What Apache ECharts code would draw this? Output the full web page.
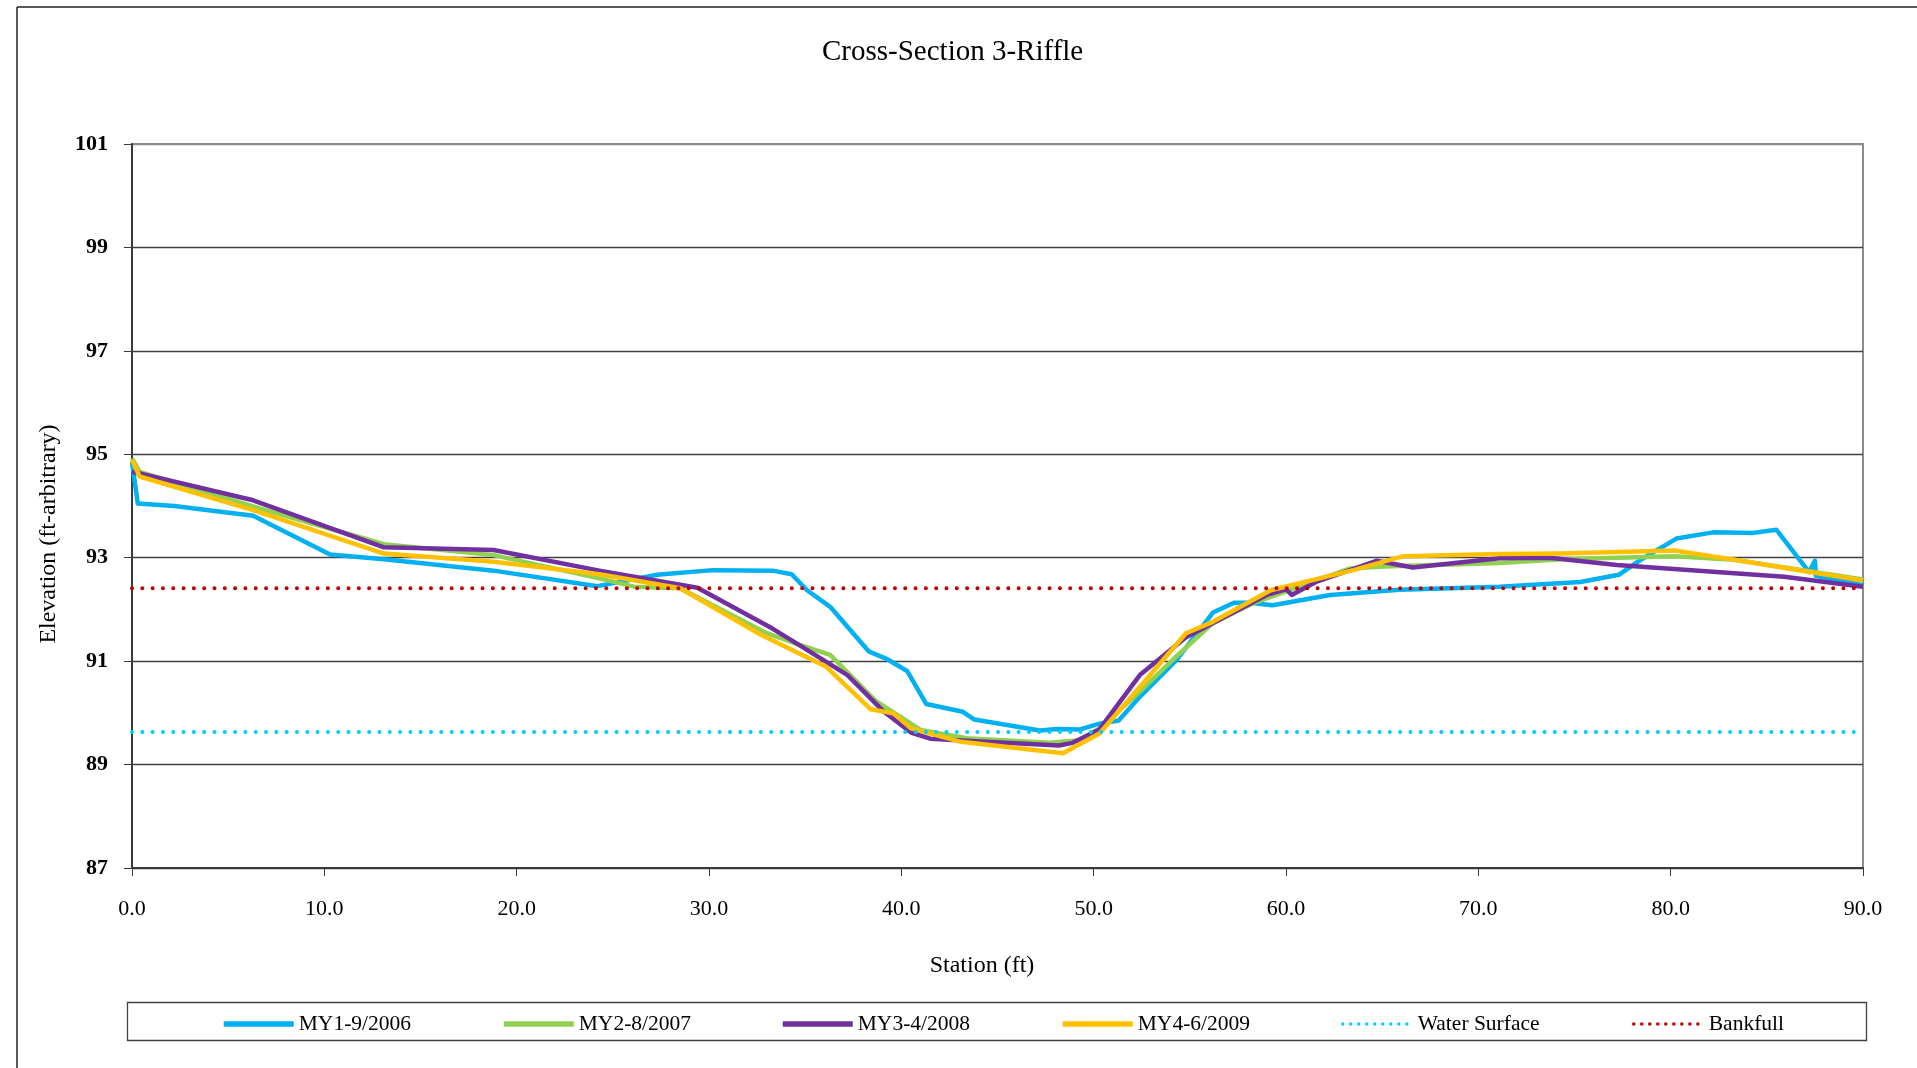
<!DOCTYPE html>
<html>
<head>
<meta charset="utf-8">
<script src="https://cdn.jsdelivr.net/npm/echarts@6/dist/echarts.min.js"></script>
<style>
html,body{margin:0;padding:0;background:#fff;}
#chart{width:1917px;height:1068px;}
</style>
</head>
<body>
<div id="chart"></div>
<script>
const chartTitle = 'Cross-Section 3-Riffle';
const xAxisName = 'Station (ft)';
const yAxisName = 'Elevation (ft-arbitrary)';
const seriesNames = ['MY1-9/2006', 'MY2-8/2007', 'MY3-4/2008', 'MY4-6/2009', 'Water Surface', 'Bankfull'];

const my1Station = [0, 0.3, 2.2, 6.3, 10.3, 13.1, 18.8, 24.2, 27.3, 30.2, 33.3, 34.3, 35.1, 36.3, 38.3, 39.2, 40.3, 41.3, 43.2, 43.8, 47.2, 48.1, 49.3, 50.3, 51.3, 52.4, 54.3, 56.2, 57.3, 58.1, 59.3, 62.3, 65.9, 71.1, 75.3, 77.3, 78.4, 80.3, 82.2, 84.3, 85.5, 87.2, 87.5, 87.55, 90];
const my1Elev = [94.85, 94.05, 94.0, 93.81, 93.06, 92.97, 92.75, 92.45, 92.67, 92.76, 92.75, 92.68, 92.37, 92.05, 91.19, 91.05, 90.81, 90.17, 90.02, 89.87, 89.66, 89.69, 89.68, 89.79, 89.85, 90.31, 91.02, 91.94, 92.13, 92.13, 92.08, 92.28, 92.38, 92.44, 92.53, 92.67, 92.95, 93.37, 93.49, 93.48, 93.54, 92.72, 92.94, 92.65, 92.47];

const my2Station = [0, 0.4, 6.3, 13.1, 18.8, 24.3, 26.1, 28.5, 33.0, 34.6, 36.3, 38.7, 41.0, 43.4, 47.7, 49.3, 50.3, 52.4, 54.3, 56.2, 58.3, 63.3, 65.1, 71.1, 74.3, 80.2, 83.3, 90];
const my2Elev = [94.92, 94.66, 93.99, 93.26, 93.05, 92.6, 92.44, 92.41, 91.54, 91.33, 91.12, 90.22, 89.67, 89.51, 89.42, 89.47, 89.7, 90.41, 91.09, 91.74, 92.12, 92.79, 92.83, 92.9, 92.97, 93.03, 92.96, 92.58];

const my3Station = [0, 0.4, 6.3, 13.1, 18.8, 24.3, 29.4, 33.3, 34.7, 37.2, 39.1, 40.5, 41.5, 43.4, 48.2, 48.9, 50.3, 52.4, 54.8, 59.0, 60.0, 60.3, 61.6, 64.7, 66.6, 71.1, 73.7, 77.2, 85.9, 90];
const my3Elev = [94.66, 94.63, 94.11, 93.2, 93.15, 92.75, 92.42, 91.63, 91.31, 90.73, 90.02, 89.62, 89.5, 89.46, 89.37, 89.42, 89.68, 90.73, 91.46, 92.28, 92.39, 92.28, 92.54, 92.94, 92.81, 92.99, 93.0, 92.86, 92.63, 92.44];

const my4Station = [0, 0.4, 6.3, 13.1, 18.8, 24.3, 28.5, 32.7, 36.1, 38.4, 39.6, 40.5, 43.1, 48.4, 50.3, 52.4, 54.8, 56.2, 59.2, 63.5, 66.1, 71.1, 74.3, 80.2, 83.3, 90];
const my4Elev = [94.89, 94.57, 93.92, 93.08, 92.92, 92.68, 92.41, 91.51, 90.89, 90.07, 89.99, 89.7, 89.44, 89.22, 89.6, 90.5, 91.54, 91.76, 92.37, 92.76, 93.03, 93.07, 93.08, 93.14, 92.96, 92.56];

const waterStation = [0, 90];
const waterElev = [89.63, 89.63];
const bankfullStation = [0, 90];
const bankfullElev = [92.41, 92.41];

const colors = ['#00B0F0', '#92D050', '#7030A0', '#FFC000', '#00CCFF', '#C00000'];
const FONT = 'Liberation Serif';

function pairs(xs, ys) { return xs.map((x, i) => [x, ys[i]]); }

const stationSets = [my1Station, my2Station, my3Station, my4Station, waterStation, bankfullStation];
const elevSets = [my1Elev, my2Elev, my3Elev, my4Elev, waterElev, bankfullElev];

const series = seriesNames.map((name, i) => {
  const dotted = i >= 4;
  return {
    name: name,
    type: 'line',
    data: pairs(stationSets[i], elevSets[i]),
    symbol: 'none',
    showSymbol: false,
    animation: false,
    z: 2 + i,
    lineStyle: dotted
      ? { color: colors[i], width: 4, type: [0.01, 10.3], cap: 'round' }
      : { color: colors[i], width: 4.5, join: 'round' },
    itemStyle: { color: colors[i] }
  };
});

// one legend per entry, laid out like the reference's evenly spaced legend row
const legendLefts = [221, 501, 780, 1060, 1341, 1632];
const legends = seriesNames.map((n, i) => ({
  left: legendLefts[i], top: 1013,
  padding: 0,
  itemWidth: 70, itemHeight: 12,
  itemStyle: { opacity: 0 },
  textStyle: { fontFamily: FONT, fontSize: 21.5, color: '#000' },
  data: [{
    name: n,
    itemStyle: { opacity: 0 },
    lineStyle: i >= 4 ? { width: 3.5, type: [0.01, 8], cap: 'round' } : { width: 5.5 }
  }]
}));

const chart = echarts.init(document.getElementById('chart'), null, { renderer: 'canvas' });
chart.setOption({
  backgroundColor: '#ffffff',
  animation: false,
  color: colors,
  title: {
    text: chartTitle,
    left: 817,
    top: 33,
    textStyle: { fontFamily: FONT, fontSize: 29, fontWeight: 'normal', color: '#000' }
  },
  grid: {
    left: 132, right: 54, top: 144, bottom: 200,
    show: true, borderColor: '#8c8c8c', borderWidth: 2, backgroundColor: 'transparent'
  },
  legend: legends,
  xAxis: {
    type: 'value', min: 0, max: 90, interval: 10,
    axisLine: { show: true, lineStyle: { color: '#3a3a3a', width: 2 } },
    axisTick: { show: true, inside: false, length: 8, lineStyle: { color: '#3a3a3a', width: 1 } },
    axisLabel: { margin: 30, fontFamily: FONT, fontSize: 22, color: '#000', formatter: v => v.toFixed(1) },
    splitLine: { show: false }
  },
  yAxis: {
    type: 'value', min: 87, max: 101, interval: 2,
    axisLine: { show: true, lineStyle: { color: '#3a3a3a', width: 2 } },
    axisTick: { show: true, inside: false, length: 8, lineStyle: { color: '#3a3a3a', width: 1 } },
    axisLabel: { margin: 24, fontFamily: FONT, fontSize: 22, fontWeight: 'bold', color: '#000' },
    splitLine: { show: true, lineStyle: { color: ['#404040', '#404040', '#404040', '#404040', '#404040', '#404040', '#404040', '#8c8c8c'], width: 1.3 } }
  },
  graphic: [
    { type: 'line', shape: { x1: 17, y1: 7, x2: 17, y2: 1068 }, style: { stroke: '#222', lineWidth: 1.5 }, silent: true },
    { type: 'line', shape: { x1: 17, y1: 7, x2: 1917, y2: 7 }, style: { stroke: '#222', lineWidth: 1.5 }, silent: true },
    { type: 'rect', shape: { x: 127.5, y: 1002.5, width: 1739, height: 38 }, style: { fill: 'none', stroke: '#404040', lineWidth: 1.3 }, silent: true, z: 0 },
    { type: 'text', x: 982, y: 966, style: { text: xAxisName, font: '24px "Liberation Serif"', fill: '#000', textAlign: 'center', textVerticalAlign: 'middle' }, silent: true },
    { type: 'text', x: 49, y: 534, rotation: Math.PI / 2, style: { text: yAxisName, font: '24px "Liberation Serif"', fill: '#000', textAlign: 'center', textVerticalAlign: 'middle' }, silent: true }
  ],
  series: series
});
</script>
</body>
</html>
